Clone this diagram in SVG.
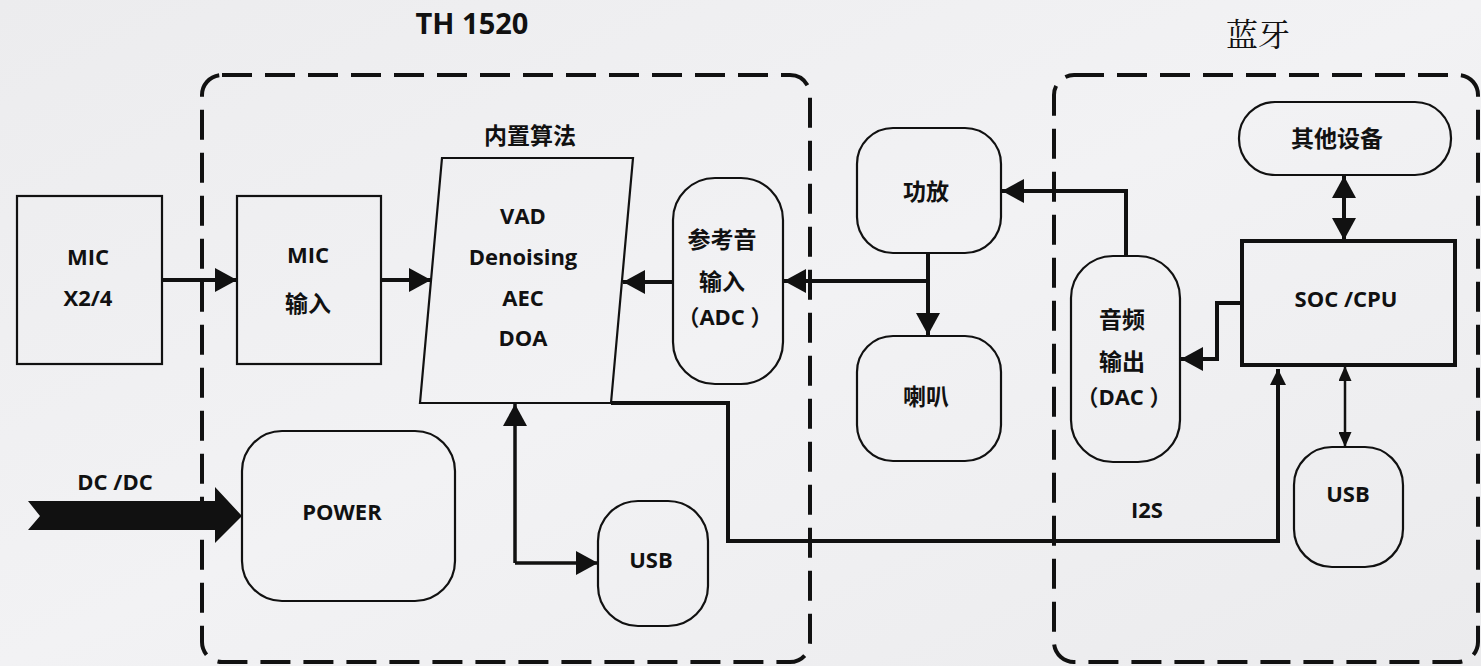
<svg xmlns="http://www.w3.org/2000/svg" width="1481" height="666" viewBox="0 0 1481 666">
<style>
.t{font-family:"Open Sans","Noto Sans CJK SC",sans-serif;font-weight:bold;font-size:22px;fill:#111;text-anchor:middle}
.z{font-family:"Noto Sans CJK SC",sans-serif;font-weight:bold;font-size:23px;fill:#111;text-anchor:middle}
.node{fill:none;stroke:#111;stroke-width:2.2}
.dash{fill:none;stroke:#111;stroke-width:4;stroke-dasharray:30 13}
.c{fill:none;stroke:#111;stroke-width:4}
</style>
<defs>
<linearGradient id="bg" x1="0" y1="0" x2="1" y2="1">
<stop offset="0" stop-color="#ececee"/>
<stop offset="0.5" stop-color="#f2f2f4"/>
<stop offset="1" stop-color="#ebebed"/>
</linearGradient>
<marker id="aL" markerUnits="userSpaceOnUse" markerWidth="22" markerHeight="24" refX="22" refY="12" orient="auto-start-reverse" viewBox="0 0 22 24"><path d="M0,0 L22,12 L0,24 z" fill="#111"/></marker>
<marker id="aM" markerUnits="userSpaceOnUse" markerWidth="16" markerHeight="16" refX="16" refY="8" orient="auto-start-reverse" viewBox="0 0 16 16"><path d="M0,0 L16,8 L0,16 z" fill="#111"/></marker>
<marker id="aS" markerUnits="userSpaceOnUse" markerWidth="15" markerHeight="13" refX="15" refY="6.5" orient="auto-start-reverse" viewBox="0 0 15 13"><path d="M0,0 L15,6.5 L0,13 z" fill="#111"/></marker>
</defs>
<rect width="1481" height="666" fill="url(#bg)"/>

<g id="group-th1520">
<rect class="dash" x="202" y="75" width="608" height="587" rx="20"/>
<text class="t" x="472" y="34" style="font-size:29px">TH 1520</text>
</g>
<g id="group-bluetooth">
<rect class="dash" x="1054" y="75" width="424" height="587" rx="20"/>
<text x="1258" y="46" font-family="'Noto Serif CJK SC','Noto Sans CJK SC',serif" font-size="32" fill="#111" text-anchor="middle">蓝牙</text>
</g>

<g id="connectors">
<line class="c" x1="162" y1="280" x2="237" y2="280" marker-end="url(#aL)"/>
<line class="c" x1="381" y1="280" x2="431" y2="280" marker-end="url(#aL)"/>
<line class="c" x1="673" y1="282" x2="623" y2="282" marker-end="url(#aL)"/>
<line class="c" x1="928" y1="253" x2="928" y2="335" marker-end="url(#aL)"/>
<line class="c" x1="928" y1="281" x2="784" y2="281" marker-end="url(#aL)"/>
<path class="c" d="M1126,256 L1126,191 L1002,191" marker-end="url(#aL)"/>
<path class="c" d="M1242,303 L1217,303 L1217,359 L1181,359" marker-end="url(#aL)"/>
<path class="c" d="M611,403 L728,403 L728,541 L1278,541 L1278,369" marker-end="url(#aM)"/>
<line class="c" x1="1344" y1="176" x2="1344" y2="240" marker-start="url(#aL)" marker-end="url(#aL)"/>
<line class="c" style="stroke-width:2.5" x1="1345" y1="366" x2="1345" y2="447" marker-start="url(#aS)" marker-end="url(#aS)"/>
<path class="c" style="stroke-width:3.5" d="M515,563 L515,404" marker-end="url(#aL)"/>
<path class="c" style="stroke-width:3.5" d="M515,563 L598,563" marker-end="url(#aL)"/>
<polygon points="28,501 215,501 215,487 242,516 215,543 215,530 28,530 40,516" fill="#111"/>
<text class="t" x="115" y="490">DC /DC</text>
<text class="t" x="1147" y="518">I2S</text>
</g>

<g id="node-mic">
<rect class="node" x="17" y="196" width="145" height="168"/>
<text class="t" x="88" y="265">MIC</text>
<text class="t" x="88" y="306">X2/4</text>
</g>
<g id="node-mic-input">
<rect class="node" x="237" y="196" width="144" height="168"/>
<text class="t" x="308" y="263">MIC</text>
<text class="z" x="308" y="312">输入</text>
</g>
<g id="node-algo">
<polygon class="node" points="442,158 633,158 611,403 420,403"/>
<text class="z" x="530" y="144">内置算法</text>
<text class="t" x="523" y="224">VAD</text>
<text class="t" x="523" y="265">Denoising</text>
<text class="t" x="523" y="306">AEC</text>
<text class="t" x="523" y="346">DOA</text>
</g>
<g id="node-ref">
<rect class="node" x="673" y="178" width="110" height="206" rx="42"/>
<text class="z" x="722" y="248">参考音</text>
<text class="z" x="722" y="290">输入</text>
<text class="t" x="725" y="325">（ADC ）</text>
</g>
<g id="node-amp">
<rect class="node" x="857" y="128" width="144" height="125" rx="36"/>
<text class="z" x="926" y="200">功放</text>
</g>
<g id="node-speaker">
<rect class="node" x="857" y="336" width="144" height="125" rx="36"/>
<text class="z" x="926" y="405">喇叭</text>
</g>
<g id="node-dac">
<rect class="node" x="1071" y="256" width="109" height="206" rx="42"/>
<text class="z" x="1122" y="328">音频</text>
<text class="z" x="1122" y="370">输出</text>
<text class="t" x="1124" y="405">（DAC ）</text>
</g>
<g id="node-soc">
<rect class="node" style="stroke-width:4" x="1242" y="241" width="213" height="124"/>
<text class="t" x="1346" y="307">SOC /CPU</text>
</g>
<g id="node-other">
<rect class="node" x="1239" y="102" width="212" height="73" rx="36"/>
<text class="z" x="1337" y="147">其他设备</text>
</g>
<g id="node-usb-right">
<rect class="node" x="1294" y="447" width="109" height="120" rx="38"/>
<text class="t" x="1348" y="502">USB</text>
</g>
<g id="node-usb-left">
<rect class="node" x="598" y="501" width="110" height="125" rx="40"/>
<text class="t" x="651" y="568">USB</text>
</g>
<g id="node-power">
<rect class="node" x="242" y="431" width="213" height="170" rx="40"/>
<text class="t" x="342" y="520">POWER</text>
</g>
</svg>
